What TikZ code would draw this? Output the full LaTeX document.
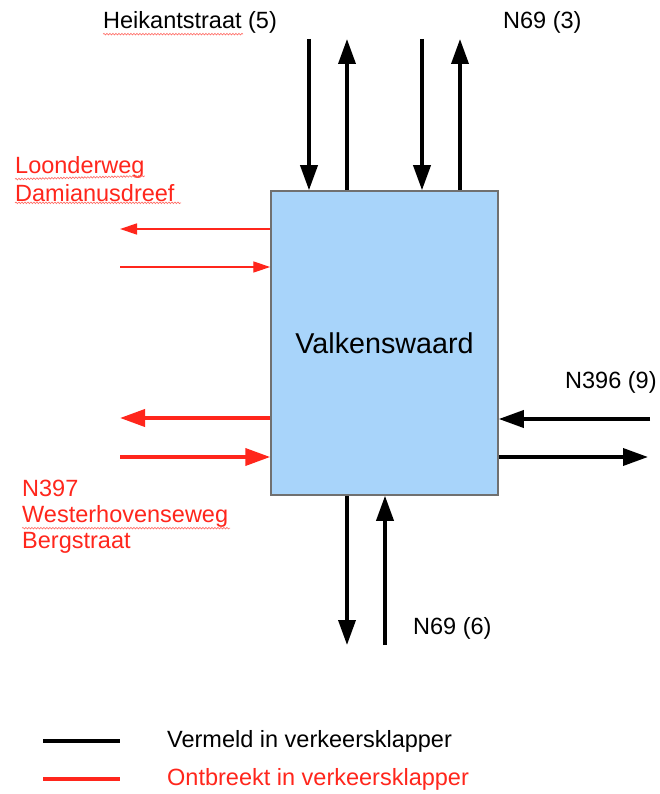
\documentclass[tikz,border=0pt]{standalone}
\usepackage{fontspec}
\setmainfont{Liberation Sans}
\usetikzlibrary{arrows.meta,decorations.pathmorphing}
\definecolor{rd}{RGB}{255,38,28}
\definecolor{boxfill}{RGB}{168,212,250}
\definecolor{boxline}{RGB}{112,112,112}
\begin{document}
\begin{tikzpicture}[x=1pt,y=-1pt,
  lbl/.style={font=\fontsize{23.5}{27}\selectfont, inner sep=0pt, anchor=west, align=left},
  rlbl/.style={lbl, text=rd},
  blk/.style={line width=3.6pt, draw=black, -{Triangle[length=25pt,width=17pt]}},
  rthick/.style={line width=3.8pt, draw=rd, -{Triangle[length=25pt,width=17pt]}},
  rthin/.style={line width=1.4pt, draw=rd, -{Triangle[length=17pt,width=11pt]}},
  squig/.style={draw=rd!70, line width=0.6pt, decorate, decoration={snake, segment length=3pt, amplitude=0.8pt}},
  box/.style={draw=boxline, line width=1.5pt, fill=boxfill, minimum width=227pt, minimum height=304pt, inner sep=0pt, font=\fontsize{28.7}{32}\selectfont}]
\useasboundingbox (0,0) rectangle (660,794);
\fill[white] (0,0) rectangle (660,794);
\node[box] (vk) at (384.5,343) {Valkenswaard};
% top
\coordinate (t1) at (309,39);
\coordinate (t2) at (347,39);
\coordinate (t3) at (422,39);
\coordinate (t4) at (460,39);
\draw[blk] (t1) -- (t1 |- vk.north);
\draw[blk] (t2 |- vk.north) -- (t2);
\draw[blk] (t3) -- (t3 |- vk.north);
\draw[blk] (t4 |- vk.north) -- (t4);
\node[lbl] (heik) at (103,22) {Heikantstraat (5)};
\node[lbl] (n693) at (503,22) {N69 (3)};
% bottom
\coordinate (b1) at (347,645);
\coordinate (b2) at (385,645);
\draw[blk] (b1 |- vk.south) -- (b1);
\draw[blk] (b2) -- (b2 |- vk.south);
\node[lbl] (n696) at (413,628) {N69 (6)};
% right
\coordinate (r1) at (650,419);
\coordinate (r2) at (648,457);
\draw[blk] (r1) -- (r1 -| vk.east);
\draw[blk] (r2 -| vk.east) -- (r2);
\node[lbl] (n396) at (565,382) {N396 (9)};
% left thin red
\coordinate (l1) at (120,229);
\coordinate (l2) at (120,267);
\draw[rthin] (l1 -| vk.west) -- (l1);
\draw[rthin] (l2) -- (l2 -| vk.west);
\node[rlbl] (loon) at (15,167) {Loonderweg};
\node[rlbl] (dami) at (15,193) {Damianusdreef};
% left thick red
\coordinate (l3) at (120,418);
\coordinate (l4) at (120,457);
\draw[rthick] (l3 -| vk.west) -- (l3);
\draw[rthick] (l4) -- (l4 -| vk.west);
\node[rlbl] (n397) at (22,488) {N397};
\node[rlbl] (west) at (22,516) {Westerhovenseweg};
\node[rlbl] (berg) at (22,543) {Bergstraat};
% spell-check squiggles
\draw[squig] (heik.south west) ++(0,1) -- ++(140,0);
\draw[squig] (loon.south west) ++(0,1) -- (loon.south east |- 0,176);
\draw[squig] (dami.south west) ++(0,1) -- ++(166,0);
\draw[squig] (west.south west) ++(0,1) -- ++(208,0);
% legend
\coordinate (k1) at (43,741);
\coordinate (k2) at (120,741);
\coordinate (k3) at (43,779);
\coordinate (k4) at (120,779);
\draw[line width=3.6pt] (k1) -- (k2);
\draw[line width=3.6pt, rd] (k3) -- (k4);
\node[lbl] (leg1) at (167,741) {Vermeld in verkeersklapper};
\node[rlbl] (leg2) at (167,779) {Ontbreekt in verkeersklapper};
\end{tikzpicture}
\end{document}
